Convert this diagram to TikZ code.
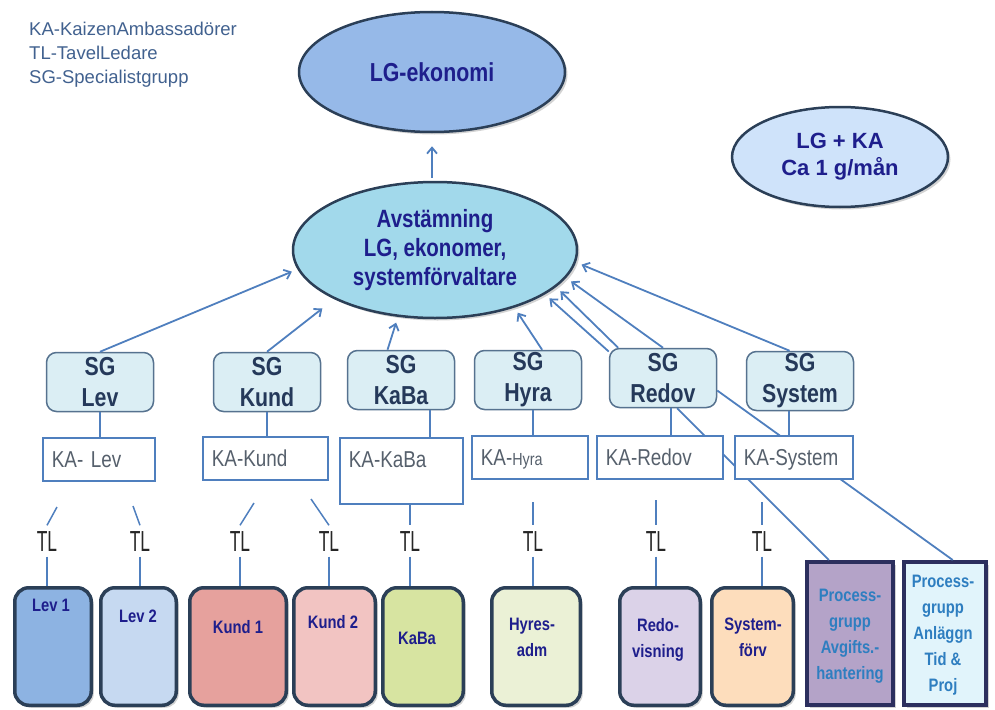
\documentclass[tikz,border=0pt]{standalone}
\usepackage{fontspec}
\setmainfont{Liberation Sans}
\newfontfamily\smalfont{Liberation Sans}[FakeStretch=0.82]
\newfontfamily\tlfont{Liberation Sans}[FakeStretch=0.6]
\usetikzlibrary{shapes.geometric,shadows,arrows.meta}

\definecolor{legtext}{HTML}{41618F}
\definecolor{blatext}{HTML}{1E1E8C}
\definecolor{sgtext}{HTML}{25395A}
\definecolor{katext}{HTML}{56606C}
\definecolor{proctext}{HTML}{2E7EC0}
\definecolor{linjefarg}{HTML}{4F7FBE}
\definecolor{kantfarg}{HTML}{2B3F57}
\definecolor{procfarg}{HTML}{2C2F5E}
\definecolor{lgfarg}{HTML}{96B9E8}
\definecolor{motefarg}{HTML}{CFE3FA}
\definecolor{avstfarg}{HTML}{A2D9EB}
\definecolor{sgfarg}{HTML}{DBEEF4}
\definecolor{sgkant}{HTML}{56728F}
\definecolor{levett}{HTML}{8DB3E2}
\definecolor{levtva}{HTML}{C6D9F1}
\definecolor{kundett}{HTML}{E6A19D}
\definecolor{kundtva}{HTML}{F2C4C2}
\definecolor{kabafarg}{HTML}{D7E4A1}
\definecolor{hyresfarg}{HTML}{EBF1D6}
\definecolor{redofarg}{HTML}{DBD2E8}
\definecolor{sysfarg}{HTML}{FDDDBC}
\definecolor{procafarg}{HTML}{B4A3C8}
\definecolor{procbfarg}{HTML}{E1F4FB}

\begin{document}
\begin{tikzpicture}[x=1pt, y=-1pt, >={Straight Barb[length=6pt,width=10pt]},
	linje/.style={draw=linjefarg, line width=1.8pt},
	pil/.style={linje, ->, shorten >=6pt},
	skugga/.style={drop shadow={shadow xshift=2.5pt, shadow yshift=-2.5pt, opacity=.35}},
	ellips/.style={ellipse, draw=kantfarg, line width=2.5pt, inner sep=0pt, align=center, text=blatext, skugga},
	sgruta/.style={rectangle, rounded corners=10pt, draw=sgkant, line width=1.5pt, fill=sgfarg, minimum width=107pt, minimum height=59pt, inner sep=0pt, align=center, text=sgtext, font=\smalfont\bfseries\fontsize{26}{31}\selectfont},
	karuta/.style={rectangle, draw=linjefarg, line width=1.8pt, fill=white, anchor=north west, inner xsep=9pt, inner ysep=13.5pt, text height=16pt, text depth=0pt, text width=#1, align=left, text=katext, font=\smalfont\fontsize{23}{23}\selectfont},
	bruta/.style={rectangle, rounded corners=14pt, draw=kantfarg, line width=3.5pt, minimum width=#1, minimum height=117.5pt, inner sep=0pt, skugga},
	pruta/.style={rectangle, draw=procfarg, line width=4pt, minimum width=#1, minimum height=143pt, inner sep=0pt, skugga},
	btext/.style={anchor=north, inner sep=0pt, align=center, text=blatext, font=\smalfont\bfseries\fontsize{18}{26}\selectfont},
	ptext/.style={btext, text=proctext},
	tlnod/.style={inner xsep=0pt, inner ysep=5pt, text height=21pt, text depth=0pt, text=black!85, font=\tlfont\fontsize{29}{29}\selectfont}]
	\useasboundingbox ( 0, 0 ) rectangle ( 995, 709 );

	% förklaring
	\node [anchor=north west, inner sep=0pt, align=left, text=legtext, font=\fontsize{18.5}{24}\selectfont] (legend) at ( 29, 22 ) {KA-KaizenAmbassadörer\\TL-TavelLedare\\SG-Specialistgrupp};

	% ledningsgrupp
	\node [ellips, fill=lgfarg, minimum width=266pt, minimum height=120pt, font=\smalfont\bfseries\fontsize{26}{30}\selectfont] (lgek) at ( 432, 72 ) {LG-ekonomi};
	\node [ellips, fill=motefarg, minimum width=216pt, minimum height=100pt, font=\bfseries\fontsize{22}{27}\selectfont] (lgka) at ( 840, 157 ) {LG + KA\\Ca 1 g/mån};
	\node [ellips, fill=avstfarg, minimum width=284pt, minimum height=136pt, font=\smalfont\bfseries\fontsize{25}{29}\selectfont] (avst) at ( 435, 250 ) {Avstämning\\LG, ekonomer,\\systemförvaltare};
	\draw [pil, shorten >=13pt, shorten <=3pt] (lgek.south |- avst.north) -- (lgek.south);

	% specialistgrupper
	\node [sgruta] (sglev) at ( 100, 382 ) {SG\\Lev};
	\node [sgruta] (sgkund) at ( 267, 382 ) {SG\\Kund};
	\node [sgruta] (sgkaba) at ( 401, 380 ) {SG\\KaBa};
	\node [sgruta] (sghyra) at ( 528, 380 ) {SG\\Hyra};
	\node [sgruta] (sgredov) at ( 663, 378 ) {SG\\Redov};
	\node [sgruta] (sgsystem) at ( 800, 381 ) {SG\\System};

	\draw [pil] (sglev.north) -- (avst.188);
	\draw [pil, shorten >=15pt] (sgkund.north) -- (avst.206);
	\draw [pil] (sgkaba.114) -- (avst.241);
	\draw [pil] (sghyra.65) -- (avst.324);
	\draw [pil] (sgredov.154) -- (avst.338);
	\draw [pil] (sgredov.146) -- (avst.343);
	\draw [pil] (sgredov.north) -- (avst.348);
	\draw [pil] (sgsystem.109) -- (avst.355);

	% tavlor
	\node [bruta=76.5pt, fill=levett] (lev1) at ( 53, 646.5 ) {};
	\node [bruta=75.5pt, fill=levtva] (lev2) at ( 138.5, 646.5 ) {};
	\node [bruta=96.5pt, fill=kundett] (kund1) at ( 238, 646.5 ) {};
	\node [bruta=81.5pt, fill=kundtva] (kund2) at ( 334.5, 646.5 ) {};
	\node [bruta=80.5pt, fill=kabafarg] (kaba) at ( 423, 646.5 ) {};
	\node [bruta=88.5pt, fill=hyresfarg] (hyres) at ( 536, 646.5 ) {};
	\node [bruta=80.5pt, fill=redofarg] (redo) at ( 660, 646.5 ) {};
	\node [bruta=81.5pt, fill=sysfarg] (sysforv) at ( 752.5, 646.5 ) {};
	\node [pruta=86pt, fill=procafarg] (proca) at ( 850, 633.5 ) {};
	\node [pruta=82pt, fill=procbfarg] (procb) at ( 945, 633.5 ) {};

	\node [btext] (lev1txt) at ( 51, 599 ) {Lev 1};
	\node [btext] (lev2txt) at ( 138, 610 ) {Lev 2};
	\node [btext] (kund1txt) at ( 238, 620 ) {Kund 1};
	\node [btext] (kund2txt) at ( 333, 615 ) {Kund 2};
	\node [btext] (kabatxt) at ( 417, 632 ) {KaBa};
	\node [btext] (hyrestxt) at ( 532, 618 ) {Hyres-\\adm};
	\node [btext] (redotxt) at ( 658, 618 ) {Redo-\\visning};
	\node [btext] (systxt) at ( 753, 618 ) {System-\\förv};
	\node [ptext] (procatxt) at ( 850, 589 ) {Process-\\grupp\\Avgifts.-\\hantering};
	\node [ptext] (procbtxt) at ( 943, 575 ) {Process-\\grupp\\Anläggn\\Tid \&\\Proj};

	% processgrupper
	\draw [linje] (sgredov.295) -- (proca.106);
	\draw [linje] (sgredov.347) -- (procb.84);

	% kaizenambassadörer
	\node [karuta=94pt] (kalev) at ( 42, 437 ) {KA- Lev};
	\node [karuta=107pt] (kakund) at ( 202, 436 ) {KA-Kund};
	\node [karuta=105pt, text depth=23pt] (kakaba) at ( 339, 437 ) {KA-KaBa};
	\node [karuta=98pt] (kahyra) at ( 471, 435 ) {KA-{\fontsize{17.5}{17.5}\selectfont Hyra}};
	\node [karuta=108pt] (karedov) at ( 596, 435 ) {KA-Redov};
	\node [karuta=100pt] (kasystem) at ( 734, 435 ) {KA-System};

	\draw [linje] (sglev.south) -- (sglev.south |- kalev.north);
	\draw [linje] (sgkund.south) -- (sgkund.south |- kakund.north);
	\draw [linje] (sgkaba.314) -- (sgkaba.314 |- kakaba.north);
	\draw [linje] (sghyra.280) -- (sghyra.280 |- kahyra.north);
	\draw [linje] (sgredov.285) -- (sgredov.285 |- karedov.north);
	\draw [linje] (sgsystem.250) -- (sgsystem.250 |- kasystem.north);

	% tavelledare
	\node [tlnod] (tllev1) at ( 47, 541 ) {TL};
	\node [tlnod] (tllev2) at ( 140, 541 ) {TL};
	\node [tlnod] (tlkund1) at ( 240, 541 ) {TL};
	\node [tlnod] (tlkund2) at ( 329, 541 ) {TL};
	\node [tlnod] (tlkaba) at ( 410, 541 ) {TL};
	\node [tlnod] (tlhyra) at ( 533, 541 ) {TL};
	\node [tlnod] (tlredov) at ( 656, 541 ) {TL};
	\node [tlnod] (tlsystem) at ( 762, 541 ) {TL};

	\coordinate (lev1topp) at ( 57, 507 );
	\coordinate (lev2topp) at ( 133, 506 );
	\coordinate (kund1topp) at ( 254, 503 );
	\coordinate (kund2topp) at ( 311, 499 );
	\coordinate (hyratopp) at ( 533, 502 );
	\coordinate (redovtopp) at ( 656, 500 );
	\coordinate (systemtopp) at ( 762, 502 );

	\draw [linje, line width=1.5pt] (lev1topp) -- (tllev1.north);
	\draw [linje, line width=1.5pt] (lev2topp) -- (tllev2.north);
	\draw [linje, line width=1.5pt] (kund1topp) -- (tlkund1.north);
	\draw [linje, line width=1.5pt] (kund2topp) -- (tlkund2.north);
	\draw [linje, line width=1.5pt] (tlkaba.north |- kakaba.south) -- (tlkaba.north);
	\draw [linje, line width=1.5pt] (hyratopp) -- (tlhyra.north);
	\draw [linje, line width=1.5pt] (redovtopp) -- (tlredov.north);
	\draw [linje, line width=1.5pt] (systemtopp) -- (tlsystem.north);

	\draw [linje, line width=1.5pt] (tllev1.south) -- (tllev1.south |- lev1.north);
	\draw [linje, line width=1.5pt] (tllev2.south) -- (tllev2.south |- lev2.north);
	\draw [linje, line width=1.5pt] (tlkund1.south) -- (tlkund1.south |- kund1.north);
	\draw [linje, line width=1.5pt] (tlkund2.south) -- (tlkund2.south |- kund2.north);
	\draw [linje, line width=1.5pt] (tlkaba.south) -- (tlkaba.south |- kaba.north);
	\draw [linje, line width=1.5pt] (tlhyra.south) -- (tlhyra.south |- hyres.north);
	\draw [linje, line width=1.5pt] (tlredov.south) -- (tlredov.south |- redo.north);
	\draw [linje, line width=1.5pt] (tlsystem.south) -- (tlsystem.south |- sysforv.north);
\end{tikzpicture}
\end{document}
